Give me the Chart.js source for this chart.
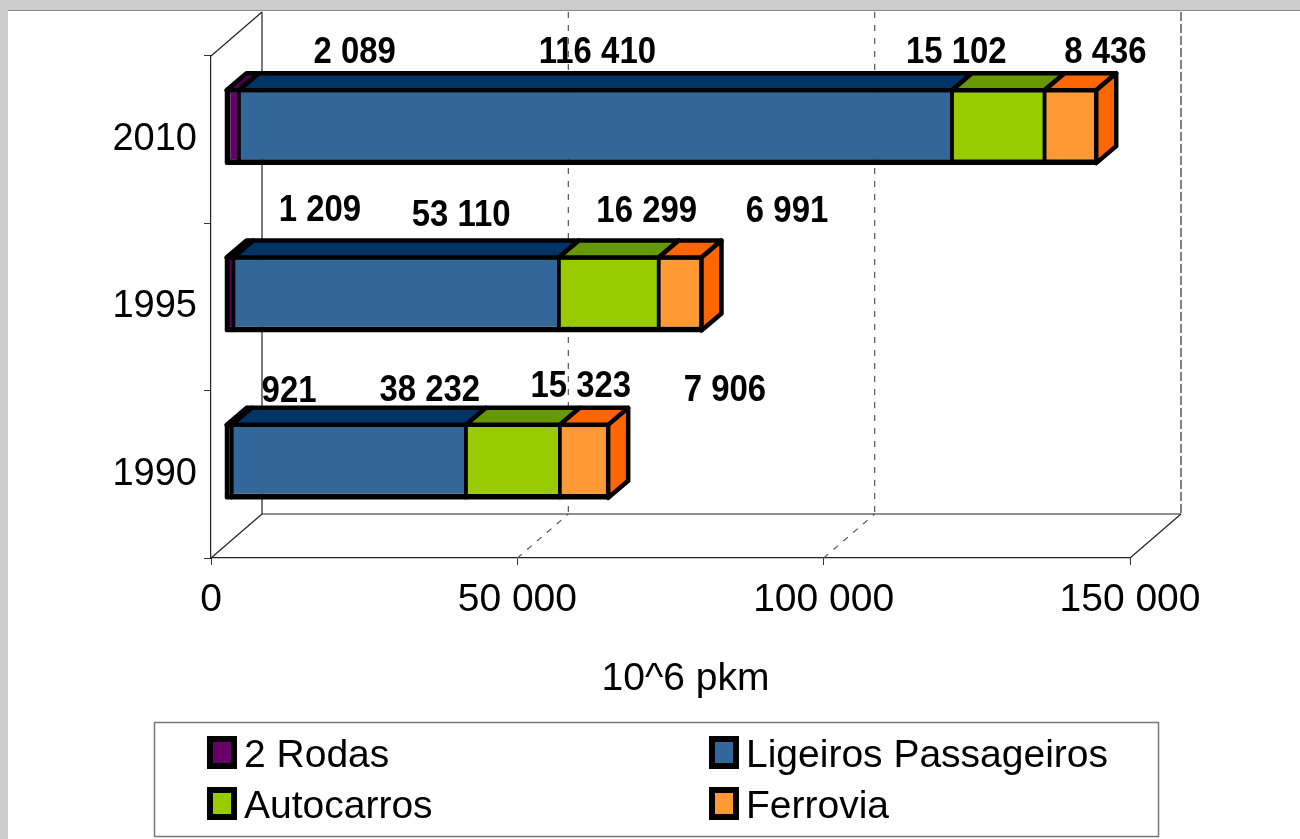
<!DOCTYPE html>
<html>
<head>
<meta charset="utf-8">
<script src="https://cdn.jsdelivr.net/npm/chart.js@4.4.1/dist/chart.umd.min.js"></script>
<style>
html,body{margin:0;padding:0;background:#fff;}
#wrap{width:1300px;height:839px;position:relative;}
</style>
</head>
<body>
<div id="wrap"><canvas id="c" width="1300" height="839"></canvas></div>
<script>
// ===== DADOS =====
const years = ['1990', '1995', '2010'];
const seriesNames = ['2 Rodas', 'Ligeiros Passageiros', 'Autocarros', 'Ferrovia'];
const rodas      = [921, 1209, 2089];
const ligeiros   = [38232, 53110, 116410];
const autocarros = [15323, 16299, 15102];
const ferrovia   = [7906, 6991, 8436];
const xTicks = [0, 50000, 100000, 150000];
const axisTitle = '10^6 pkm';

// ===== ESTILO =====
const FONT = "'Liberation Sans', Arial, sans-serif";
const frontCol = ['#660066', '#336699', '#99cc00', '#ff9933'];
const topCol   = ['#4d004d', '#003366', '#669900', '#ff6600'];
const sideCol  = '#ff6600';
const depth    = {x: 51, y: -44};   // profundidade da parede/chao
const barOff   = {x: 15, y: -13};   // face da frente das barras
const barDepth = {x: 20, y: -17};   // espessura das barras
// deslocamento dos rotulos (px) em relacao ao centro do segmento / topo da barra
const labelNudge = {
  '2010': [[122, -37], [2, -37], [-42, -37], [35, -37]],
  '1995': [[90, -47], [65, -42], [38, -46], [107, -46]],
  '1990': [[60, -33], [81, -34], [68, -38], [141, -34]]
};

const fmt = v => String(v).replace(/\B(?=(\d{3})+(?!\d))/g, ' ');

function bw(i){
  const last = seriesNames.length - 1;
  return {top: 2, bottom: 4, left: i === 0 ? 4 : 0.5, right: i === last ? 2 : 0.5};
}
const seriesData = [rodas, ligeiros, autocarros, ferrovia];
const datasets = seriesNames.map((n, i) => ({
  label: n, data: seriesData[i],
  backgroundColor: frontCol[i], borderColor: '#000',
  borderWidth: bw(i), borderSkipped: false, inflateAmount: 0,
  barPercentage: 0.436, categoryPercentage: 1, clip: false
}));

function line(c, x1, y1, x2, y2){
  c.beginPath(); c.moveTo(x1, y1); c.lineTo(x2, y2); c.stroke();
}
function poly(c, pts, fill){
  c.beginPath();
  pts.forEach((p, k) => k ? c.lineTo(p[0], p[1]) : c.moveTo(p[0], p[1]));
  c.closePath();
  c.fillStyle = fill; c.fill();
  c.stroke();
}

// ===== PLUGIN 3D =====
const fake3d = {
  id: 'fake3d',
  beforeDraw(chart){
    const c = chart.ctx;
    c.save();
    c.fillStyle = '#fff'; c.fillRect(0, 0, chart.width, chart.height);
    c.fillStyle = '#cccccc';
    c.fillRect(0, 0, chart.width, 10); c.fillRect(0, 0, 8, chart.height);
    c.strokeStyle = '#888'; c.lineWidth = 1;
    line(c, 8, 10.5, chart.width, 10.5);
    c.restore();
  },
  beforeDatasetsDraw(chart){
    const c = chart.ctx, a = chart.chartArea, x = chart.scales.x;
    c.save();
    c.strokeStyle = '#222'; c.lineWidth = 1.2;
    const bx = a.left + depth.x;
    line(c, a.left, a.top, bx, a.top + depth.y);
    line(c, a.left, a.bottom, bx, a.bottom + depth.y);
    line(c, a.right, a.bottom, a.right + depth.x, a.bottom + depth.y);
    line(c, bx, a.top + depth.y, bx, a.bottom + depth.y);
    line(c, bx, a.bottom + depth.y, a.right + depth.x, a.bottom + depth.y);
    c.setLineDash([6, 7]);
    xTicks.slice(1).forEach((v, k, arr) => {
      const px = x.getPixelForValue(v), end = k === arr.length - 1;
      c.strokeStyle = end ? '#333' : '#555';
      if (end) c.setLineDash([9, 3]);
      line(c, px + depth.x, a.top + depth.y, px + depth.x, a.bottom + depth.y);
      if (!end) line(c, px, a.bottom, px + depth.x, a.bottom + depth.y);
    });
    c.restore();
    c.save();
    c.translate(barOff.x, barOff.y);
  },
  afterDatasetsDraw(chart){
    const c = chart.ctx, last = chart.data.datasets.length - 1;
    c.strokeStyle = '#000'; c.lineJoin = 'round';
    chart.data.datasets.forEach((ds, i) => {
      chart.getDatasetMeta(i).data.forEach(el => {
        const p = el.getProps(['x', 'y', 'base', 'height'], true);
        const l = Math.min(p.x, p.base), r = Math.max(p.x, p.base);
        const t = p.y - p.height / 2, b = p.y + p.height / 2;
        const dx = barDepth.x, dy = barDepth.y;
        c.lineWidth = 3.5;
        c.strokeRect(l, t, r - l, b - t);
        c.lineWidth = 4.5;
        poly(c, [[l, t], [r, t], [r + dx, t + dy], [l + dx, t + dy]], topCol[i]);
        if (i === last) poly(c, [[r, t], [r + dx, t + dy], [r + dx, b + dy], [r, b]], sideCol);
      });
    });
    c.restore();
  },
  afterDraw(chart){
    const c = chart.ctx, a = chart.chartArea;
    c.save();
    // rotulos (letra um pouco condensada, como no original)
    c.font = 'bold 37px ' + FONT; c.fillStyle = '#000';
    c.textAlign = 'center'; c.textBaseline = 'middle';
    chart.data.datasets.forEach((ds, i) => {
      chart.getDatasetMeta(i).data.forEach((el, j) => {
        const p = el.getProps(['x', 'y', 'base', 'height'], true);
        const n = labelNudge[years[j]][i];
        c.save();
        c.translate((p.x + p.base) / 2 + barOff.x + n[0], p.y - p.height / 2 + barOff.y + n[1]);
        c.scale(0.89, 1);
        c.fillText(fmt(ds.data[j]), 0, 0);
        c.restore();
      });
    });
    // titulo do eixo
    c.font = '39px ' + FONT; c.textBaseline = 'alphabetic';
    c.fillText(axisTitle, (a.left + a.right) / 2 + barOff.x, 690);
    // legenda
    c.strokeStyle = '#777'; c.lineWidth = 1.5;
    c.strokeRect(154.5, 722.5, 1004, 114);
    c.textAlign = 'left';
    chart.data.datasets.forEach((ds, i) => {
      const lx = i % 2 ? 709 : 207, ly = i < 2 ? 736 : 787;
      c.fillStyle = '#000'; c.fillRect(lx, ly, 30, 33);
      c.fillStyle = ds.backgroundColor; c.fillRect(lx + 6, ly + 6, 18, 21);
      c.fillStyle = '#000'; c.fillText(ds.label, lx + 37, ly + 31);
    });
    c.restore();
  }
};

new Chart(document.getElementById('c'), {
  type: 'bar',
  data: {labels: years, datasets},
  options: {
    indexAxis: 'y', responsive: false, animation: false,
    layout: {padding: {top: 56, right: 170, bottom: 0, left: 0}},
    plugins: {legend: {display: false}, tooltip: {enabled: false}},
    scales: {
      x: {
        stacked: true, min: 0, max: 150000,
        afterBuildTicks: s => { s.ticks = xTicks.map(v => ({value: v})); },
        afterFit: s => { s.height = 281; },
        ticks: {color: '#000', font: {family: FONT, size: 39}, padding: 12, callback: v => fmt(v)},
        grid: {display: true, drawOnChartArea: false, drawTicks: true, tickLength: 7, color: '#333'},
        border: {display: true, color: '#222', width: 1.2}
      },
      y: {
        stacked: true, reverse: true,
        afterFit: s => { s.width = 211; },
        ticks: {color: '#000', font: {family: FONT, size: 38}, padding: 7},
        grid: {display: true, drawOnChartArea: false, drawTicks: true, tickLength: 7, color: '#333', offset: true},
        border: {display: true, color: '#222', width: 1.2}
      }
    }
  },
  plugins: [fake3d]
});
</script>
</body>
</html>
